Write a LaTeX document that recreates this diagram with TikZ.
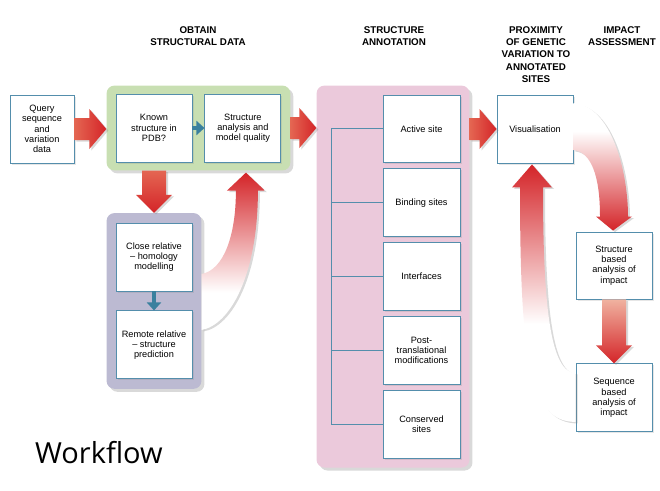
\documentclass[tikz,border=0pt]{standalone}
\usepackage{fontspec}
\setmainfont{Liberation Sans}
\newfontfamily\titlefont{Open Sans}
\usetikzlibrary{positioning, calc, fit, backgrounds, shadows, arrows.meta}

\definecolor{boxblue}{RGB}{84,142,172}
\definecolor{linkteal}{RGB}{58,128,158}
\definecolor{arrowred}{RGB}{212,36,40}
\definecolor{arrowlight}{RGB}{228,102,82}
\definecolor{arrowpale}{RGB}{240,178,160}
\definecolor{greenpanel}{RGB}{200,223,178}
\definecolor{purplepanel}{RGB}{188,186,210}
\definecolor{pinkpanel}{RGB}{235,201,219}

% fading shadings for the curved arrows
\pgfdeclareverticalshading{fadeA}{100bp}{color(0bp)=(white); color(37bp)=(white); color(75bp)=(arrowred); color(100bp)=(arrowred)}
\pgfdeclareverticalshading{fadeB}{100bp}{color(0bp)=(white); color(44bp)=(white); color(75bp)=(arrowred); color(100bp)=(arrowred)}
\pgfdeclareverticalshading{fadeC}{100bp}{color(0bp)=(arrowred); color(25bp)=(arrowred); color(64bp)=(white); color(100bp)=(white)}

\newcommand{\fatright}[2]{%
  \path[fatarrow, left color=arrowlight, right color=arrowred]
    let \p1=#1, \p2=#2 in
    (\x1,\y1+11pt) -- (\x2-17pt,\y1+11pt) -- (\x2-17pt,\y1+20pt) -- (\x2,\y1)
    -- (\x2-17pt,\y1-20pt) -- (\x2-17pt,\y1-11pt) -- (\x1,\y1-11pt) -- cycle;}
\newcommand{\fatdown}[3]{%
  \path[fatarrow, #1]
    let \p1=#2, \p2=#3 in
    (\x1-12pt,\y1) -- (\x1+12pt,\y1) -- (\x1+12pt,\y2+18pt) -- (\x1+18pt,\y2+18pt)
    -- (\x1,\y2) -- (\x1-18pt,\y2+18pt) -- (\x1-12pt,\y2+18pt) -- cycle;}

\begin{document}
\begin{tikzpicture}[x=1pt, y=-1pt,
  every node/.style={font=\fontsize{9.2}{10.2}\selectfont, align=center},
  infobox/.style={draw=boxblue, line width=0.9pt, fill=white, minimum width=76pt,
    minimum height=68pt, inner sep=2pt,
    drop shadow={opacity=0.2, shadow xshift=1.5pt, shadow yshift=-1.5pt}},
  annobox/.style={infobox, minimum width=77pt, minimum height=67.5pt},
  panel/.style={rounded corners=8pt, inner sep=9pt,
    drop shadow={opacity=0.3, shadow xshift=3pt, shadow yshift=-3pt}},
  heading/.style={font=\fontsize{9.8}{12.3}\selectfont\bfseries, anchor=north},
  fatarrow/.style={drop shadow={opacity=0.3, shadow xshift=2pt, shadow yshift=-1.5pt}},
  tealarrow/.style={draw=linkteal, line width=4pt, -{Triangle[length=8pt, width=14pt]}},
  treeline/.style={draw=boxblue, line width=0.8pt}
]
\useasboundingbox (0,0) rectangle (660,490);

% headings
\node[heading] (hobtain) at (198,23) {OBTAIN\\STRUCTURAL DATA};
\node[heading] (hannot) at (394,23) {STRUCTURE\\ANNOTATION};
\node[heading] (hprox) at (536,23) {PROXIMITY\\OF GENETIC\\VARIATION TO\\ANNOTATED\\SITES};
\node[heading] (himpact) at (622,23) {IMPACT\\ASSESSMENT};

% obtain structural data
\node[infobox, minimum width=64pt] (query) at (42,129) {Query\\sequence\\and\\variation\\data};
\node[infobox] (known) at (154,128) {Known\\structure in\\PDB?};
\node[infobox, right=12pt of known] (analysis) {Structure\\analysis and\\model quality};
\node[infobox] (closerel) at (154,257) {Close relative\\-- homology\\modelling};
\node[infobox, below=19pt of closerel] (remoterel) {Remote relative\\-- structure\\prediction};

% structure annotation
\node[annobox] (active) at (421.5,128.75) {Active site};
\node[annobox, below=5.5pt of active] (binding) {Binding sites};
\node[annobox, below=5.5pt of binding] (interfaces) {Interfaces};
\node[annobox, below=5.5pt of interfaces] (posttrans) {Post-\\translational\\modifications};
\node[annobox, below=5.5pt of posttrans] (conserved) {Conserved\\sites};

\coordinate (trunk) at ($(active.west)+(-51,0)$);
\draw[treeline] (active.west) -- (trunk) -- (trunk |- conserved.west) -- (conserved.west);
\foreach \n in {binding, interfaces, posttrans}
  \draw[treeline] (\n.west) -- (trunk |- \n.west);

% proximity and impact
\node[infobox] (visual) at (535,129) {Visualisation};
\node[infobox, minimum height=67pt] (strimpact) at (614,265.5) {Structure\\based\\analysis of\\impact};
\node[infobox, below=64pt of strimpact] (seqimpact) {Sequence\\based\\analysis of\\impact};

\begin{scope}[on background layer]
  \node[panel, fill=greenpanel, fit=(known)(analysis), inner xsep=9pt, inner ysep=8pt] (obtain) {};
  \node[panel, fill=purplepanel, fit=(closerel)(remoterel), inner ysep=9.5pt] (relatives) {};
  \node[panel, fill=pinkpanel, fit={($(trunk)+(-6,0)$) (active) (conserved)}] (annot) {};
\end{scope}

% straight arrows
\fatright{(query.east)}{(obtain.west)}
\fatright{(obtain.east)}{(annot.west)}
\fatright{(annot.east |- visual.west)}{(visual.west)}
\fatdown{top color=arrowlight, bottom color=arrowred}{(known.south |- obtain.south)}{(known.south |- relatives.north)}
\fatdown{top color=arrowpale, bottom color=arrowred}{(strimpact.south)}{(seqimpact.north)}
\draw[tealarrow] (known) -- (analysis);
\draw[tealarrow] (closerel) -- (remoterel);

% curved arrows
\coordinate (tipA) at ($(analysis.south |- obtain.south)+(3,2)$);
\path[fatarrow, shading=fadeA]
  ($(relatives.east)+(0,-27)$) .. controls +(22,-4) and +(0,45) .. ($(tipA)+(-10,18)$)
  -- ($(tipA)+(-19,18)$) -- (tipA) -- ($(tipA)+(19,18)$) -- ($(tipA)+(12,18)$)
  .. controls +(0,85) and +(28,-5) .. ($(relatives.east)+(0,29)$) -- cycle;

\coordinate (tipB) at ($(visual.south)+(-3,1)$);
\path[fatarrow, shading=fadeB]
  ($(seqimpact.west)+(0,24)$) .. controls +(-46,0) and +(0,173) .. ($(tipB)+(-12,23)$)
  -- ($(tipB)+(-20,23)$) -- (tipB) -- ($(tipB)+(20,23)$) -- ($(tipB)+(11,23)$)
  .. controls +(0,120) and +(-25,0) .. ($(seqimpact.west)+(0,-25)$) -- cycle;

\coordinate (tipC) at ($(strimpact.north)+(-1,-1)$);
\path[fatarrow, shading=fadeC]
  ($(visual.east)+(0,-26)$) .. controls +(38,3) and +(0,-45) .. ($(tipC)+(15,-14)$)
  -- ($(tipC)+(19,-14)$) -- (tipC) -- ($(tipC)+(-17,-14)$) -- ($(tipC)+(-13,-14)$)
  .. controls +(0,-40) and +(18,2) .. ($(visual.east)+(0,21)$) -- cycle;

\node[font=\titlefont\fontsize{29}{32}\selectfont, anchor=base west, inner sep=0pt] (workflow) at (35,463) {Workflow};
\end{tikzpicture}
\end{document}
